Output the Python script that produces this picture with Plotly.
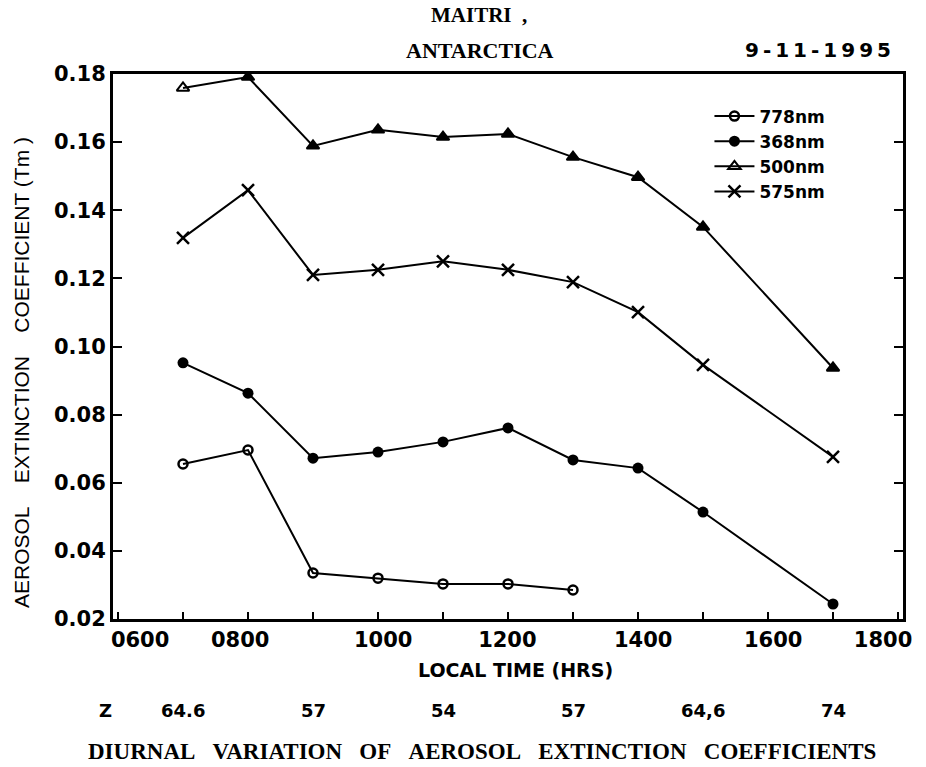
import plotly.graph_objects as go

# ---- data ----
hours = [7, 8, 9, 10, 11, 12, 13, 14, 15, 17]
hours_778 = [7, 8, 9, 10, 11, 12, 13]
aec_778 = [0.0655, 0.0696, 0.0335, 0.0320, 0.0303, 0.0303, 0.0285]
aec_368 = [0.0952, 0.0863, 0.0672, 0.0690, 0.0720, 0.0761, 0.0667, 0.0643, 0.0514, 0.0244]
aec_500 = [0.1759, 0.1791, 0.1589, 0.1636, 0.1615, 0.1624, 0.1556, 0.1497, 0.1351, 0.0937]
aec_575 = [0.1319, 0.1459, 0.1210, 0.1225, 0.1250, 0.1225, 0.1189, 0.1101, 0.0946, 0.0676]
series_names = ["778nm", "368nm", "500nm", "575nm"]
x_ticktext = ["0600", "0800", "1000", "1200", "1400", "1600", "1800"]
y_tickvals = [0.02, 0.04, 0.06, 0.08, 0.10, 0.12, 0.14, 0.16, 0.18]
y_ticktext = ["0.02", "0.04", "0.06", "0.08", "0.10", "0.12", "0.14", "0.16", "0.18"]
zenith_hours = [7, 9, 11, 13, 15, 17]
zenith_labels = ["64.6", "57", "54", "57", "64,6", "74"]

# label positions as drawn in the original figure (hours)
x_tickpos = [6.34, 7.88, 10.08, 11.99, 14.08, 16.08, 17.77]

NB = "\u00a0"
TS = "\u2009"
fig = go.Figure()

fig.add_trace(go.Scatter(
    x=hours_778, y=aec_778, name=series_names[0], mode="lines+markers",
    line=dict(color="black", width=2),
    marker=dict(symbol="circle-open", size=9, color="black", line=dict(width=2.5))))
fig.add_trace(go.Scatter(
    x=hours, y=aec_368, name=series_names[1], mode="lines+markers",
    line=dict(color="black", width=2),
    marker=dict(symbol="circle", size=11, color="black")))
fig.add_trace(go.Scatter(
    x=hours, y=aec_500, name=series_names[2], mode="lines+markers",
    line=dict(color="black", width=2),
    marker=dict(symbol=["triangle-up-open"] + ["triangle-up"] * (len(hours) - 1),
                size=11, color="black", line=dict(width=2, color="black"))))
fig.add_trace(go.Scatter(
    x=hours, y=aec_575, name=series_names[3], mode="lines+markers",
    line=dict(color="black", width=2),
    marker=dict(symbol="x-thin-open", size=12, color="black", line=dict(width=2.5, color="black"))))

tick_font = dict(family="DejaVu Sans", size=21, color="black", weight="bold")

fig.update_layout(
    width=926, height=767,
    margin=dict(l=113, r=23, t=74, b=148),
    paper_bgcolor="white", plot_bgcolor="white",
    showlegend=True,
    legend=dict(x=0.755, y=0.955, xanchor="left", yanchor="top",
                bgcolor="rgba(0,0,0,0)", borderwidth=0,
                font=dict(family="DejaVu Sans", size=17, color="black", weight="bold"),
                itemwidth=40, tracegroupgap=0),
    xaxis=dict(range=[5.923, 18.077], showgrid=False, zeroline=False,
               showline=True, linecolor="black", linewidth=2.5, mirror=True,
               tickmode="array", tickvals=x_tickpos, ticktext=x_ticktext,
               ticks="", tickfont=tick_font,
               minor=dict(tickmode="linear", tick0=6, dtick=1, ticks="inside",
                          ticklen=7, tickwidth=2, tickcolor="black", showgrid=False)),
    yaxis=dict(range=[0.02, 0.18], showgrid=False, zeroline=False,
               showline=True, linecolor="black", linewidth=3, mirror="ticks",
               tickmode="array", tickvals=y_tickvals, ticktext=y_ticktext,
               ticks="inside", ticklen=9, tickwidth=2, tickcolor="black",
               tickfont=tick_font),
)

serif_bold = dict(family="Liberation Serif", size=21, color="black", weight="bold")
ann = [
    dict(text="MAITRI" + NB * 2 + ",", x=0.463, y=1.108, font=serif_bold),
    dict(text="ANTARCTICA", x=0.464, y=1.044,
         font=dict(family="Liberation Serif", size=22, color="black", weight="bold")),
    dict(text=TS.join("9-11-1995"), x=0.893, y=1.044,
         font=dict(family="DejaVu Sans", size=20, color="black", weight="bold")),
    dict(text="AEROSOL" + NB * 4 + "EXTINCTION" + NB * 4 + "COEFFICIENT (Tm )", x=-0.116, y=0.452,
         textangle=-90, font=dict(family="Liberation Sans", size=21, color="black")),
    dict(text="LOCAL TIME (HRS)", x=0.509, y=-0.094,
         font=dict(family="DejaVu Sans", size=19, color="black", weight="bold")),
    dict(text=(NB * 3).join(["DIURNAL", "VARIATION", "OF", "AEROSOL", "EXTINCTION", "COEFFICIENTS"]),
         x=0.467, y=-0.244, font=dict(family="Liberation Serif", size=23, color="black", weight="bold")),
]
for a in ann:
    fig.add_annotation(xref="paper", yref="paper", showarrow=False,
                       xanchor="center", yanchor="middle", **a)

num_font = dict(family="DejaVu Sans", size=18, color="black", weight="bold")
fig.add_annotation(text="Z", x=-0.02, y=-0.191, xref="paper", yref="paper",
                   showarrow=False, font=num_font)
for h, lab in zip(zenith_hours, zenith_labels):
    fig.add_annotation(text=lab, x=h, y=-0.191, xref="x", yref="paper",
                       showarrow=False, font=num_font)

fig.write_html("out.html")
